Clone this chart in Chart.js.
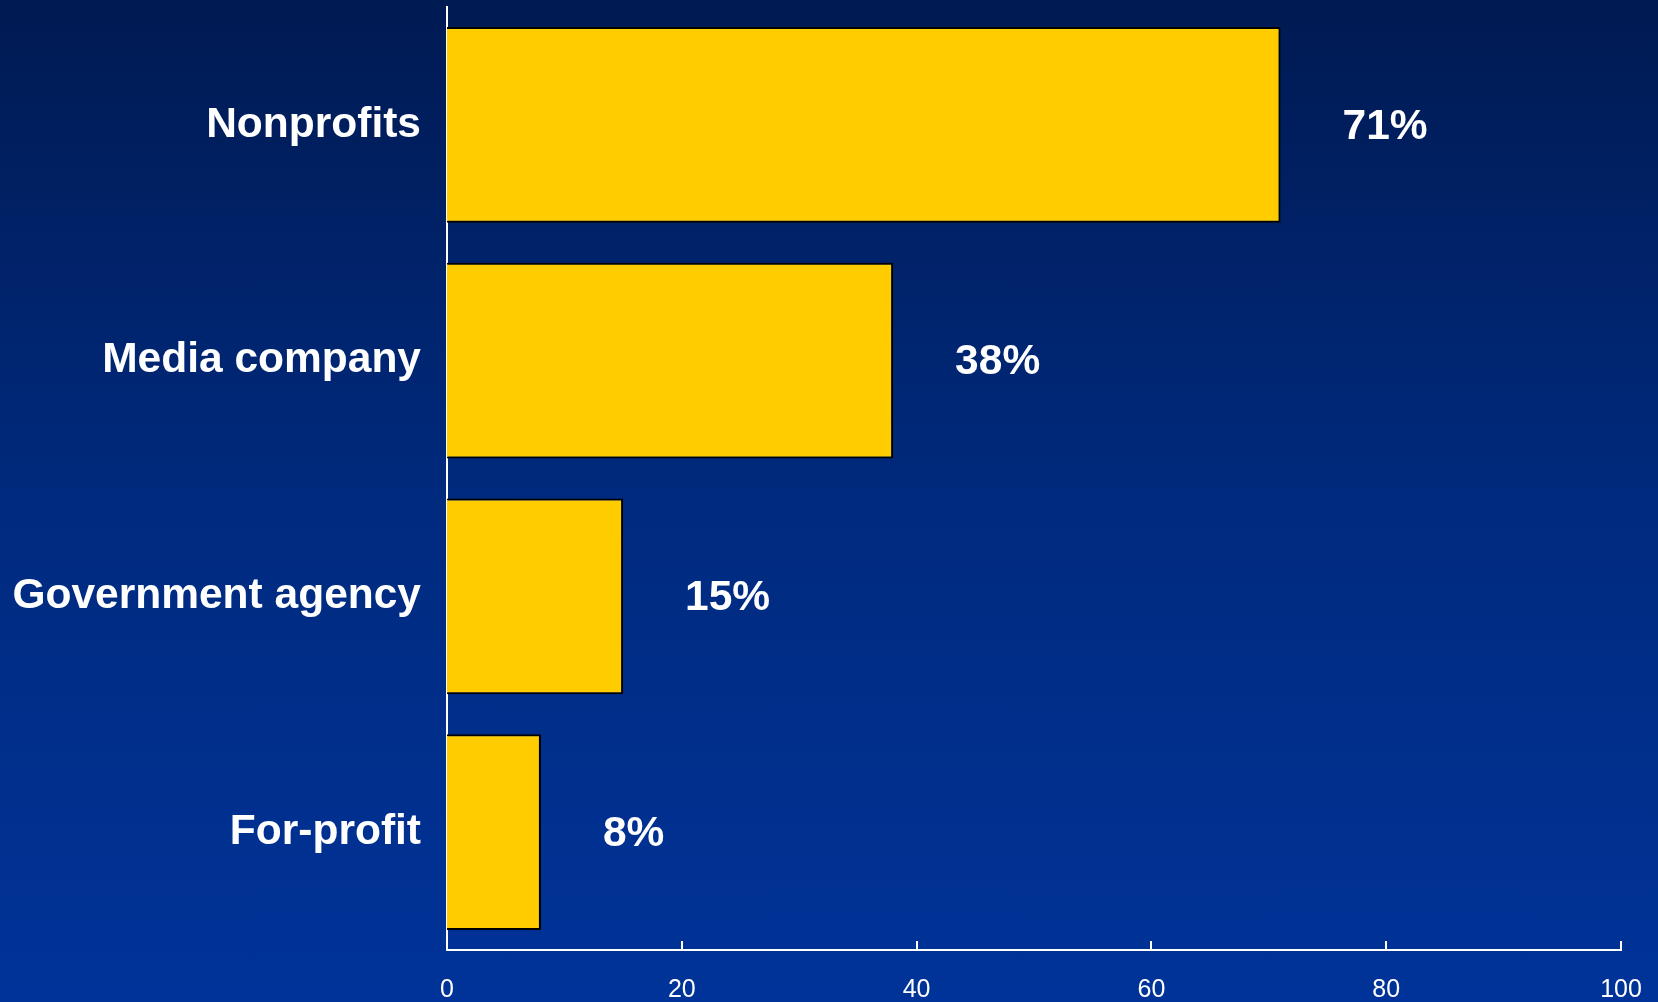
<!DOCTYPE html>
<html lang="en">
<head>
<meta charset="UTF-8" />
<title>Organization types</title>
<script src="https://cdn.jsdelivr.net/npm/chart.js"></script>
<style>
  html, body {
    margin: 0; padding: 0; width: 1658px; height: 1002px; overflow: hidden;
    background: linear-gradient(to bottom, #001a52 0%, #002a7e 50%, #003399 100%);
  }
  canvas { display: block; }
</style>
</head>
<body>

<canvas id="grafico" width="1658" height="1002"></canvas>

<script>
  const categorias = ['Nonprofits', 'Media company', 'Government agency', 'For-profit'];
  const valores = [71, 38, 15, 8];
  const rotulos = ['71%', '38%', '15%', '8%'];
  const escalaMax = 100;
  const passo = 20;

  // percent labels to the right of each bar
  const rotulosPlugin = {
    id: 'rotulos',
    afterDatasetsDraw(chart) {
      const ctx = chart.ctx;
      const meta = chart.getDatasetMeta(0);
      ctx.save();
      ctx.fillStyle = '#fff';
      ctx.font = 'bold 42.5px Arial, "Liberation Sans", sans-serif';
      ctx.textAlign = 'left';
      ctx.textBaseline = 'middle';
      meta.data.forEach((bar, i) => {
        ctx.fillText(rotulos[i], bar.x + 62, bar.y + 2);
      });
      ctx.restore();
    }
  };

  // small tick marks pointing up from the x axis
  const marcasPlugin = {
    id: 'marcas',
    afterDraw(chart) {
      const ctx = chart.ctx;
      const x = chart.scales.x;
      const base = chart.chartArea.bottom;
      ctx.save();
      ctx.strokeStyle = '#fff';
      ctx.lineWidth = 2;
      x.ticks.forEach(t => {
        const px = Math.round(x.getPixelForValue(t.value));
        ctx.beginPath();
        ctx.moveTo(px, base);
        ctx.lineTo(px, base - 9);
        ctx.stroke();
      });
      ctx.restore();
    }
  };

  new Chart(document.getElementById('grafico'), {
    type: 'bar',
    data: {
      labels: categorias,
      datasets: [{
        data: valores,
        backgroundColor: '#ffcc00',
        borderColor: '#000',
        borderWidth: { top: 2, right: 2, bottom: 2, left: 0 },
        borderSkipped: false,
        categoryPercentage: 1,
        barPercentage: 0.83
      }]
    },
    options: {
      indexAxis: 'y',
      responsive: false,
      animation: false,
      layout: { padding: { top: 7, right: 37, left: 0, bottom: 0 } },
      plugins: {
        legend: { display: false },
        tooltip: { enabled: false }
      },
      scales: {
        x: {
          min: 0,
          max: escalaMax,
          afterFit(s) {
            s.height = 52;
            s.paddingLeft = 0;
            s.paddingRight = 0;
          },
          grid: { display: false, drawTicks: false },
          border: { display: true, color: '#fff', width: 2 },
          ticks: {
            stepSize: passo,
            color: '#fff',
            padding: 25,
            font: { family: 'Arial, "Liberation Sans", sans-serif', size: 25 }
          }
        },
        y: {
          afterFit(s) {
            s.width = 447;
            s.paddingTop = 0;
            s.paddingBottom = 0;
          },
          grid: { display: false, drawTicks: false },
          border: { display: true, color: '#fff', width: 2 },
          ticks: {
            color: '#fff',
            padding: 26,
            font: { family: 'Arial, "Liberation Sans", sans-serif', size: 42.5, weight: 'bold' }
          }
        }
      }
    },
    plugins: [rotulosPlugin, marcasPlugin]
  });
</script>

</body>
</html>
